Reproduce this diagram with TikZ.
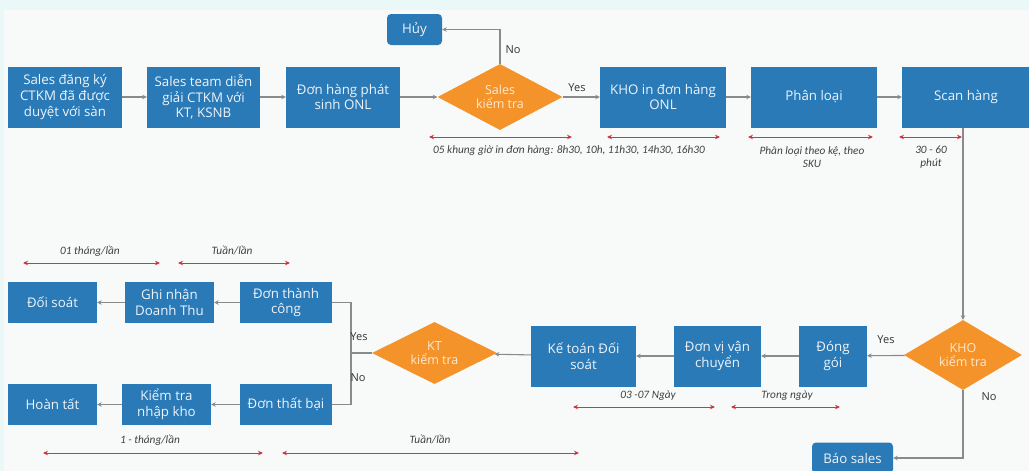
\documentclass[tikz,border=0pt]{standalone}
\usepackage{fontspec}
\setmainfont{Carlito}
\newfontfamily\boxface{Open Sans}
\usetikzlibrary{shapes.geometric,arrows.meta}
\definecolor{boxblue}{HTML}{2A7AB8}
\definecolor{decorange}{HTML}{F39329}
\definecolor{linegrey}{HTML}{8A8A8A}
\definecolor{spanred}{HTML}{9E4E52}
\definecolor{tipred}{HTML}{D0303A}
\definecolor{bgpaper}{HTML}{F8FAFA}
\definecolor{bgedge}{HTML}{EAF8F8}
\newcommand{\boxfont}{\boxface\fontsize{13.3}{15.8}\selectfont}
\newcommand{\notefont}{\fontsize{11.3}{12.5}\selectfont\itshape}
\tikzset{
  stepbox/.style={fill=boxblue, text=white!92!boxblue, align=center, font=\boxfont,
    inner sep=2pt, minimum height=61pt},
  smallbox/.style={stepbox, minimum height=41pt},
  roundbox/.style={stepbox, rounded corners=4pt, minimum height=31pt},
  decision/.style={diamond, fill=decorange, text=white!80!decorange, align=center,
    font=\boxface\fontsize{12.5}{14.5}\selectfont, inner sep=0pt, aspect=1.9},
  flow/.style={draw=linegrey, line width=1.1pt, -{Stealth[length=4.5pt,width=4.5pt]}},
  flowplain/.style={draw=linegrey, line width=1.1pt},
  span/.style={draw=spanred, line width=0.9pt,
    {Stealth[length=5pt,width=4.5pt,color=tipred]}-{Stealth[length=5pt,width=4.5pt,color=tipred]}},
  note/.style={font=\notefont, text=black!75, align=center},
  answer/.style={font=\boxface\fontsize{11}{13}\selectfont, text=black!80}
}
\begin{document}
\begin{tikzpicture}[x=1pt,y=-1pt]
  % page and background
  \useasboundingbox (0,0) rectangle (1029,471);
  \fill[bgedge] (0,0) rectangle (1029,471);
  \fill[bgpaper] (4,10) rectangle (1029,471);
  \clip (0,0) rectangle (1029,471);

  % top row
  \node[stepbox, minimum width=114pt] (reg) at (65,97) {Sales đăng ký\\CTKM đã được\\duyệt với sàn};
  \node[stepbox, minimum width=113pt] (brief) at (203.5,97) {Sales team diễn\\giải CTKM với\\KT, KSNB};
  \node[stepbox, minimum width=114pt] (order) at (343,97) {Đơn hàng phát\\sinh ONL};
  \node[decision, minimum width=125pt, minimum height=66pt] (salescheck) at (500,97) {Sales\\kiểm tra};
  \node[roundbox, minimum width=55pt] (cancel) at (414.5,29.5) {Hủy};
  \node[stepbox, minimum width=126pt] (print) at (663,97) {KHO in đơn hàng\\ONL};
  \node[stepbox, minimum width=126pt] (sort) at (814,97) {Phân loại};
  \node[stepbox, minimum width=128pt] (scan) at (966,97) {Scan hàng};

  % middle row
  \node[decision, minimum width=118pt, minimum height=70pt] (khocheck) at (963,355) {KHO\\kiểm tra};
  \node[stepbox, minimum width=68pt] (pack) at (833,356) {Đóng\\gói};
  \node[stepbox, minimum width=87pt] (ship) at (717.5,356) {Đơn vị vận\\chuyển};
  \node[stepbox, minimum width=105pt] (acct) at (583.5,356) {Kế toán Đối\\soát};
  \node[decision, minimum width=125pt, minimum height=62pt] (ktcheck) at (434.5,353) {KT\\kiểm tra};
  \node[roundbox, minimum width=81pt] (report) at (852.5,458) {Báo sales};

  % left branches
  \node[smallbox, minimum width=92pt] (ok) at (286,302.5) {Đơn thành\\công};
  \node[smallbox, minimum width=89pt] (revenue) at (169.5,302.5) {Ghi nhận\\Doanh Thu};
  \node[smallbox, minimum width=89pt] (recon) at (52.5,302.5) {Đối soát};
  \node[smallbox, minimum width=92pt] (fail) at (286,404.5) {Đơn thất bại};
  \node[smallbox, minimum width=89pt] (restock) at (166.5,404.5) {Kiểm tra\\nhập kho};
  \node[smallbox, minimum width=89pt] (done) at (52.5,404.5) {Hoàn tất};

  % connectors
  \draw[flow] (reg) -- (brief);
  \draw[flow] (brief) -- (order);
  \draw[flow] (order) -- (salescheck);
  \draw[flow] (salescheck) -- (print);
  \draw[flow] (salescheck.north) |- (cancel.east);
  \draw[flow] (print) -- (sort);
  \draw[flow] (sort) -- (scan);
  \draw[flow] (khocheck.north |- scan.south) -- (khocheck.north);
  \draw[flow] (khocheck) -- (pack);
  \draw[flow] (pack) -- (ship);
  \draw[flow] (ship) -- (acct);
  \draw[flow] (acct) -- (ktcheck);
  \draw[flow] (khocheck.south) |- (report.east);
  \coordinate (split) at (351,353);
  \draw[flowplain] (ktcheck.west) -- (split);
  \draw[flowplain] (split) |- (ok.east);
  \draw[flowplain] (split) |- (fail.east);
  \draw[flow] (ok) -- (revenue);
  \draw[flow] (revenue) -- (recon);
  \draw[flow] (fail) -- (restock);
  \draw[flow] (restock) -- (done);

  % branch answers
  \node[answer] (noA) at (513,50) {No};
  \node[answer] (yesA) at (577,88) {Yes};
  \node[answer] (yesB) at (886,340) {Yes};
  \node[answer] (noB) at (989,397) {No};
  \node[answer] (yesC) at (359,337) {Yes};
  \node[answer] (noC) at (358,378) {No};

  % durations, top row
  \coordinate (s1a) at (429,137); \coordinate (s1b) at (572,137);
  \draw[span] (s1a) -- (s1b);
  \node[note] (n1) at (569,151) {05 khung giờ in đơn hàng: 8h30, 10h, 11h30, 14h30, 16h30};
  \coordinate (s2a) at (607,137); \coordinate (s2b) at (720,137);
  \draw[span] (s2a) -- (s2b);
  \coordinate (s3a) at (748,137); \coordinate (s3b) at (873,137);
  \draw[span] (s3a) -- (s3b);
  \node[note] (n3) at (812,157) {Phân loại theo kệ, theo\\SKU};
  \coordinate (s4a) at (899,137); \coordinate (s4b) at (962,137);
  \draw[span] (s4a) -- (s4b);
  \node[note] (n4) at (931,157) {30 - 60\\phút};

  % durations, middle row
  \coordinate (s5a) at (573,407); \coordinate (s5b) at (715,407);
  \draw[span] (s5a) -- (s5b);
  \node[note] (n5) at (648,396) {03 -07 Ngày};
  \coordinate (s6a) at (731,407); \coordinate (s6b) at (840,407);
  \draw[span] (s6a) -- (s6b);
  \node[note] (n6) at (787,396) {Trong ngày};

  % durations, left branches
  \coordinate (s7a) at (23,263); \coordinate (s7b) at (160,263);
  \draw[span] (s7a) -- (s7b);
  \node[note] (n7) at (90,251) {01 tháng/lần};
  \coordinate (s8a) at (178,263); \coordinate (s8b) at (290,263);
  \draw[span] (s8a) -- (s8b);
  \node[note] (n8) at (232,251) {Tuần/lần};
  \coordinate (s9a) at (43,453); \coordinate (s9b) at (263,453);
  \draw[span] (s9a) -- (s9b);
  \node[note] (n9) at (150,440) {1 - tháng/lần};
  \coordinate (s10a) at (282,453); \coordinate (s10b) at (579,453);
  \draw[span] (s10a) -- (s10b);
  \node[note] (n10) at (430,440) {Tuần/lần};
\end{tikzpicture}
\end{document}
